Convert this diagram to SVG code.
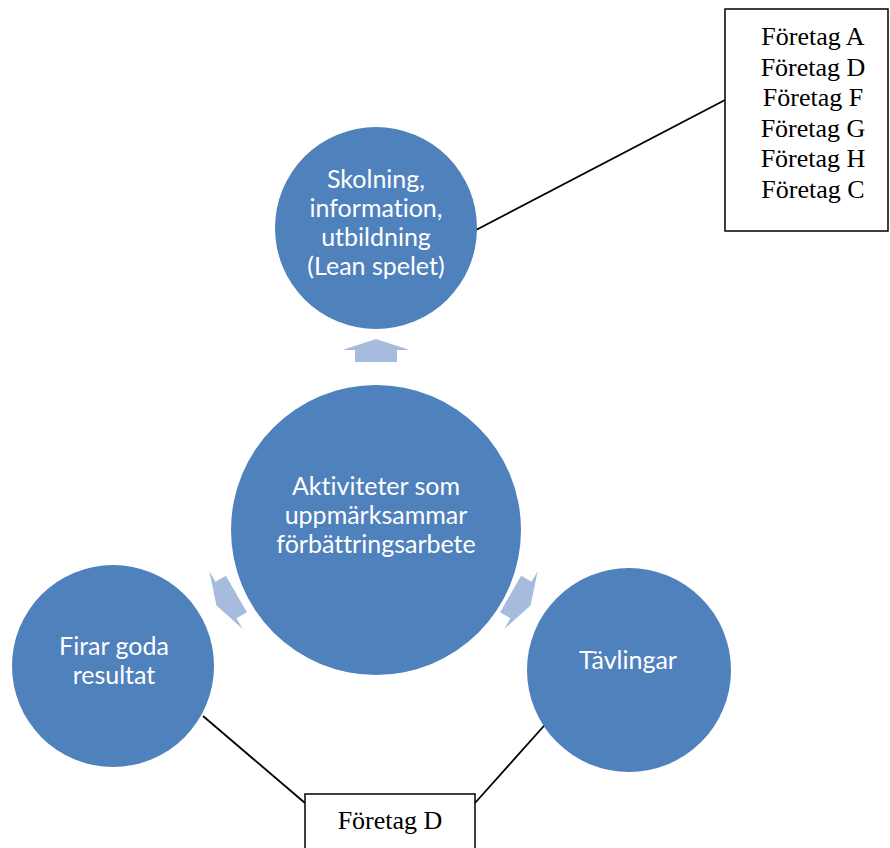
<svg xmlns="http://www.w3.org/2000/svg" width="890" height="848" viewBox="0 0 890 848">
<defs>
<style>
.c{fill:#4F81BD}
.t{fill:#fff;font-family:Lato,"Open Sans",sans-serif;font-size:25px;text-anchor:middle;font-variant-ligatures:none}
.a{fill:#A7BBDC}
.b{fill:#fff;stroke:#000;stroke-width:1.5}
.bt{fill:#000;font-family:"Liberation Serif","Times New Roman",serif;font-size:26px;text-anchor:middle}
.l{stroke:#000;stroke-width:1.8;fill:none}
</style>
<polygon id="arr" points="0,-11 33.5,0 21,0 21,12 -21,12 -21,0 -33.5,0"/>
</defs>
<rect width="890" height="848" fill="#fff"/>
<g id="connectors">
<line class="l" x1="476" y1="230" x2="725" y2="100"/>
<line class="l" x1="203" y1="716" x2="305" y2="803"/>
<line class="l" x1="551" y1="718" x2="475" y2="803"/>
</g>
<g id="arrows">
<use href="#arr" class="a" transform="translate(376,350)"/>
<use href="#arr" class="a" transform="translate(226,600) rotate(-120)"/>
<use href="#arr" class="a" transform="translate(521,600) rotate(120)"/>
</g>
<g id="n-skolning">
<circle class="c" cx="376" cy="228" r="101"/>
<text class="t" x="376" y="188">Skolning,</text>
<text class="t" x="376" y="217">information,</text>
<text class="t" x="376" y="246">utbildning</text>
<text class="t" x="376" y="275">(Lean spelet)</text>
</g>
<g id="n-center">
<circle class="c" cx="376" cy="530" r="145"/>
<text class="t" x="376" y="495">Aktiviteter som</text>
<text class="t" x="376" y="524">uppmärksammar</text>
<text class="t" x="376" y="553">förbättringsarbete</text>
</g>
<g id="n-firar">
<circle class="c" cx="113" cy="666" r="101"/>
<text class="t" x="114" y="655">Firar goda</text>
<text class="t" x="114" y="684">resultat</text>
</g>
<g id="n-tavlingar">
<circle class="c" cx="629" cy="670" r="102"/>
<text class="t" x="628" y="669">Tävlingar</text>
</g>
<g id="box-top">
<rect class="b" x="725" y="9" width="163" height="222"/>
<text class="bt" x="813" y="45">Företag A</text>
<text class="bt" x="813" y="75.5">Företag D</text>
<text class="bt" x="813" y="106">Företag F</text>
<text class="bt" x="813" y="136.5">Företag G</text>
<text class="bt" x="813" y="167">Företag H</text>
<text class="bt" x="813" y="197.5">Företag C</text>
</g>
<g id="box-bottom">
<rect class="b" x="305" y="794" width="170" height="70"/>
<text class="bt" x="390" y="829">Företag D</text>
</g>
</svg>
